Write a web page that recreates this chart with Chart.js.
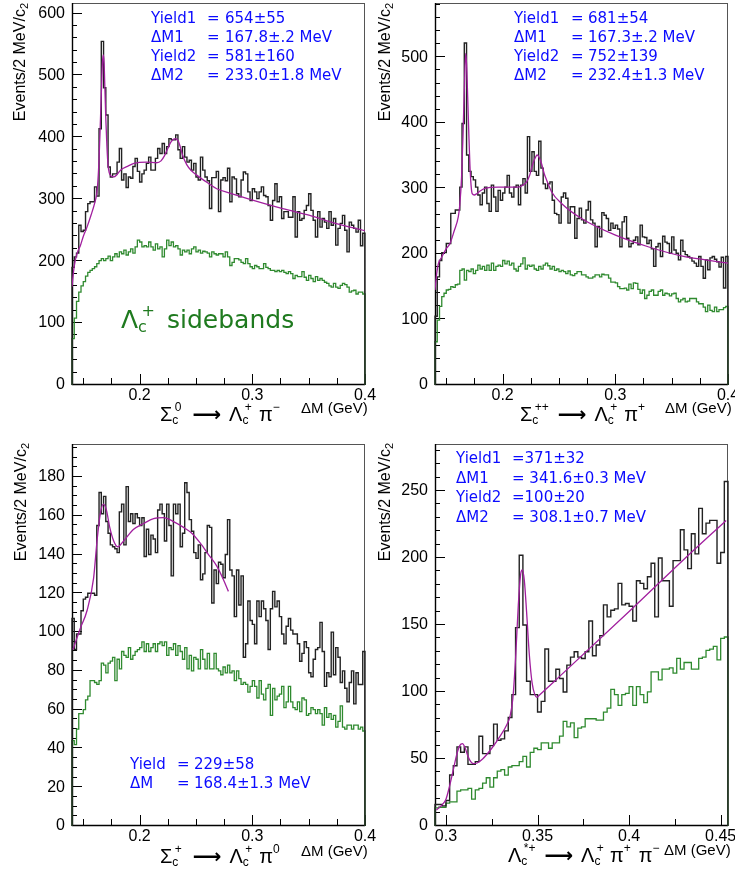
<!DOCTYPE html>
<html>
<head>
<meta charset="utf-8">
<script src="https://cdn.jsdelivr.net/npm/chart.js@4.4.1/dist/chart.umd.min.js"></script>
<style>
  html, body { margin: 0; padding: 0; background: #fff; }
  #page { position: relative; width: 735px; height: 871px; overflow: hidden; background: #fff; }
  #page canvas { position: absolute; }
</style>
</head>
<body>
<div id="page">
  <canvas id="c1" width="380" height="430" style="left:0px;top:0px"></canvas>
  <canvas id="c2" width="367" height="430" style="left:368px;top:0px"></canvas>
  <canvas id="c3" width="380" height="441" style="left:0px;top:430px"></canvas>
  <canvas id="c4" width="367" height="441" style="left:368px;top:430px"></canvas>
</div>
<script>
// binning (GeV)
const binWidth = 0.002;
const sigmaLo = 0.14, sigmaHi = 0.40;
const lambdaLo = 0.294, lambdaHi = 0.454;

// axis ticks
const sigmaXTicks = [0.2, 0.3, 0.4];
const lambdaXTicks = [0.3, 0.35, 0.4, 0.45];
const sigma0YTicks = [0, 100, 200, 300, 400, 500, 600];
const sigmaPPYTicks = [0, 100, 200, 300, 400, 500];
const sigmaPYTicks = [0, 20, 40, 60, 80, 100, 120, 140, 160, 180];
const lambdaStarYTicks = [0, 50, 100, 150, 200, 250];

// Sigma_c0 -> Lambda_c+ pi-
const sigma0Signal = [
  190, 207, 213, 258, 248, 250, 280, 293, 296, 296,
  320, 305, 414, 555, 480, 436, 352, 336, 341, 341,
  360, 382, 331, 341, 319, 336, 334, 353, 366, 345,
  328, 341, 347, 358, 368, 347, 347, 366, 382, 374,
  390, 374, 385, 398, 396, 396, 404, 380, 366, 385,
  368, 360, 363, 347, 358, 336, 331, 368, 347, 336,
  330, 285, 335, 335, 345, 280, 331, 335, 330, 350,
  296, 336, 333, 309, 304, 331, 344, 341, 312, 298,
  317, 312, 301, 312, 320, 306, 304, 290, 266, 298,
  325, 296, 304, 269, 280, 280, 271, 271, 304, 239,
  280, 266, 269, 282, 290, 309, 282, 266, 239, 280,
  255, 269, 263, 253, 280, 258, 269, 226, 253, 261,
  274, 250, 215, 263, 258, 253, 247, 266, 225, 245
];
const sigma0Side = [
  75, 108, 135, 150, 160, 167, 176, 182, 185, 188,
  191, 196, 201, 204, 201, 204, 208, 201, 207, 212,
  207, 215, 212, 218, 210, 215, 220, 213, 223, 234,
  231, 223, 225, 223, 231, 223, 218, 228, 220, 223,
  207, 220, 234, 225, 231, 223, 225, 220, 210, 218,
  215, 218, 212, 220, 223, 215, 218, 213, 216, 215,
  213, 207, 215, 212, 210, 212, 212, 207, 215, 207,
  193, 198, 204, 204, 202, 198, 196, 204, 196, 191,
  188, 193, 191, 188, 188, 196, 190, 188, 185, 185,
  183, 185, 183, 185, 182, 180, 183, 180, 172, 177,
  175, 175, 183, 174, 169, 177, 172, 167, 175, 169,
  172, 169, 166, 164, 160, 158, 164, 158, 156, 161,
  164, 162, 158, 150, 152, 153, 147, 150, 150, 147
];
const sigma0FitX = [0.140, 0.1415, 0.143, 0.145, 0.1474, 0.150, 0.1533, 0.157, 0.160, 0.162,
  0.163, 0.164, 0.165, 0.166, 0.167, 0.1678, 0.1685, 0.169, 0.170, 0.171,
  0.172, 0.173, 0.175, 0.177, 0.180, 0.183, 0.190, 0.195, 0.206, 0.215,
  0.219, 0.222, 0.225, 0.228, 0.2315, 0.234, 0.236, 0.238, 0.2418, 0.246,
  0.2507, 0.260, 0.2684, 0.280, 0.298, 0.327, 0.351, 0.372, 0.400];
const sigma0FitY = [159, 185, 202, 215, 225, 240, 255, 275, 293, 310,
  330, 365, 415, 470, 520, 533, 520, 490, 430, 385,
  355, 343, 337, 336, 340, 347, 354, 358, 360, 359,
  362, 370, 382, 393, 398, 395, 385, 372, 356, 346,
  339, 327, 317, 310, 300, 285, 274, 262, 249];

// Sigma_c++ -> Lambda_c+ pi+
const sigmaPPSignal = [
  105, 165, 190, 202, 202, 216, 216, 262, 262, 267,
  267, 302, 399, 522, 351, 326, 318, 313, 302, 290,
  275, 293, 302, 277, 265, 305, 287, 265, 297, 282,
  293, 302, 320, 293, 287, 302, 305, 275, 305, 315,
  293, 379, 326, 356, 326, 320, 372, 331, 307, 300,
  307, 310, 282, 262, 260, 247, 287, 293, 285, 247,
  272, 272, 224, 254, 270, 252, 247, 267, 280, 252,
  247, 211, 242, 226, 263, 259, 254, 236, 247, 239,
  244, 238, 211, 249, 257, 224, 211, 216, 221, 226,
  214, 244, 226, 225, 216, 221, 208, 181, 211, 216,
  196, 227, 218, 216, 201, 226, 206, 201, 191, 221,
  204, 199, 196, 194, 189, 186, 181, 196, 181, 163,
  191, 176, 194, 196, 192, 188, 180, 195, 148, 196
];
const sigmaPPSide = [
  66, 99, 120, 135, 140, 145, 146, 150, 149, 153,
  154, 175, 177, 160, 175, 173, 177, 170, 175, 183,
  177, 181, 175, 183, 175, 186, 175, 181, 183, 181,
  190, 185, 189, 183, 186, 177, 174, 181, 185, 194,
  177, 183, 181, 183, 177, 175, 181, 177, 183, 186,
  182, 177, 181, 175, 177, 173, 175, 173, 170, 174,
  168, 167, 170, 173, 173, 168, 168, 165, 163, 163,
  165, 168, 168, 165, 169, 168, 168, 163, 157, 157,
  156, 150, 147, 147, 148, 145, 154, 147, 156, 155,
  146, 140, 145, 132, 137, 143, 145, 137, 137, 143,
  145, 137, 140, 139, 136, 139, 140, 132, 127, 130,
  132, 127, 128, 132, 132, 132, 127, 124, 124, 119,
  112, 122, 114, 112, 119, 112, 115, 115, 118, 120
];
const sigmaPPFitX = [0.140, 0.1415, 0.143, 0.1459, 0.150, 0.1533, 0.157, 0.1607, 0.162, 0.1636,
  0.165, 0.166, 0.1672, 0.168, 0.169, 0.170, 0.171, 0.172, 0.173, 0.175,
  0.177, 0.180, 0.1843, 0.196, 0.214, 0.218, 0.2213, 0.224, 0.2257, 0.228,
  0.2307, 0.2325, 0.2345, 0.237, 0.239, 0.2434, 0.2523, 0.270, 0.2996, 0.3291,
  0.3586, 0.380, 0.400];
const sigmaPPFitY = [145, 170, 185, 195, 208, 216, 235, 257, 275, 318,
  390, 450, 506, 490, 440, 384, 335, 305, 292, 290,
  292, 296, 300, 302, 302, 305, 310, 320, 331, 343,
  351, 347, 338, 322, 313, 295, 277, 254, 229, 211,
  197, 191, 186];

// Sigma_c+ -> Lambda_c+ pi0
const sigmaPSignal = [
  107, 91, 99, 99, 111, 117, 118, 120, 120, 120,
  119, 155, 172, 161, 170, 157, 151, 145, 144, 143,
  141, 162, 166, 145, 175, 157, 161, 156, 161, 159,
  155, 159, 139, 153, 140, 150, 148, 141, 163, 166,
  161, 147, 166, 155, 129, 166, 161, 166, 144, 151,
  177, 172, 158, 152, 141, 138, 145, 127, 130, 141,
  155, 154, 115, 132, 125, 136, 135, 128, 140, 158,
  132, 129, 108, 132, 114, 129, 87, 94, 116, 106,
  104, 94, 116, 108, 116, 112, 106, 91, 112, 121,
  113, 116, 108, 99, 94, 103, 107, 101, 99, 99,
  94, 85, 89, 95, 92, 79, 77, 86, 91, 92,
  105, 90, 72, 79, 77, 100, 78, 92, 87, 74,
  80, 71, 64, 74, 80, 63, 79, 73, 73, 90
];
const sigmaPSide = [
  44, 42, 50, 58, 58, 60, 65, 67, 75, 75,
  74, 73, 75, 84, 83, 79, 84, 85, 87, 75,
  86, 81, 90, 88, 87, 92, 86, 88, 90, 91,
  92, 95, 90, 94, 90, 92, 94, 90, 94, 95,
  93, 95, 88, 92, 91, 94, 88, 93, 90, 86,
  92, 81, 88, 80, 87, 86, 81, 91, 86, 81,
  89, 81, 81, 89, 81, 80, 78, 82, 79, 83,
  79, 80, 75, 80, 76, 73, 74, 73, 69, 72,
  75, 72, 66, 75, 68, 65, 71, 73, 57, 71,
  65, 67, 68, 72, 61, 64, 72, 64, 61, 60,
  64, 59, 66, 65, 57, 58, 61, 60, 58, 60,
  58, 52, 61, 56, 58, 55, 57, 51, 54, 62,
  51, 50, 52, 52, 50, 52, 52, 50, 51, 49
];
const sigmaPFitX = [0.1409, 0.1474, 0.1533, 0.1592, 0.1622, 0.1651, 0.1678, 0.1705, 0.1735, 0.177,
  0.1805, 0.1858, 0.1947, 0.2035, 0.2124, 0.2212, 0.2301, 0.239, 0.2463, 0.2537,
  0.2611, 0.2685, 0.2744, 0.2788];
const sigmaPFitY = [91, 102, 111, 128, 147, 161, 166, 163, 154, 147,
  144, 147, 153, 156, 158.5, 159, 157, 154, 151, 146,
  140, 134, 127, 121];

// Lambda_c*+ -> Lambda_c+ pi+ pi-
const lambdaStarSignal = [
  16, 16, 15, 19, 38, 45, 59, 55, 59, 46,
  46, 48, 67, 54, 54, 60, 76, 64, 65, 71,
  81, 98, 148, 202, 150, 108, 98, 98, 85, 93,
  132, 108, 108, 117, 110, 100, 120, 126, 130, 126,
  125, 130, 153, 127, 135, 142, 165, 156, 161, 162,
  181, 165, 166, 164, 153, 183, 181, 177, 186, 196,
  156, 200, 183, 183, 164, 198, 198, 221, 206, 192,
  218, 203, 237, 218, 226, 228, 228, 196, 204, 257
];
const lambdaStarSide = [
  13.5, 14, 14, 17, 18, 18, 26, 27, 27, 28,
  20, 27, 28, 32, 36, 29, 36, 41, 42, 38,
  44, 45, 45, 48, 52, 44, 55, 58, 57, 62,
  62, 58, 62, 62, 67, 78, 74, 77, 66, 73,
  74, 80, 80, 80, 79, 79, 85, 88, 102, 98,
  90, 98, 99, 104, 90, 104, 98, 92, 100, 115,
  115, 109, 117, 117, 118, 114, 125, 117, 122, 122,
  117, 117, 125, 126, 131, 132, 134, 124, 140, 141
];
const lambdaStarFitX = [0.2948, 0.298, 0.300, 0.302, 0.304, 0.306, 0.3075, 0.309, 0.3105, 0.312,
  0.3135, 0.315, 0.317, 0.320, 0.325, 0.330, 0.333, 0.335, 0.3365, 0.338,
  0.3395, 0.3408, 0.3417, 0.3428, 0.344, 0.3455, 0.347, 0.3485, 0.3497, 0.3505,
  0.360, 0.400, 0.430, 0.453];
const lambdaStarFitY = [12, 16, 20, 30, 42, 54, 60, 61.5, 58, 52,
  48, 46.5, 47, 50, 58, 68, 75, 82, 95, 125,
  165, 188, 191, 183, 160, 128, 107, 98, 96, 97,
  109, 160, 199, 228];

// fit results
const sigma0Notes = [['Yield1', '654±55'], ['ΔM1', '167.8±.2 MeV'], ['Yield2', '581±160'], ['ΔM2', '233.0±1.8 MeV']];
const sigmaPPNotes = [['Yield1', '681±54'], ['ΔM1', '167.3±.2 MeV'], ['Yield2', '752±139'], ['ΔM2', '232.4±1.3 MeV']];
const sigmaPNotes = [['Yield', '229±58'], ['ΔM', '168.4±1.3 MeV']];
const lambdaStarNotes = [['Yield1', '=371±32'], ['ΔM1', '= 341.6±0.3 MeV'], ['Yield2', '=100±20'], ['ΔM2', '= 308.1±0.7 MeV']];

const SANS = '"Liberation Sans", Arial, sans-serif';
const DEJAVU = '"DejaVu Sans", sans-serif';
const FIT_COLOR = '#a11f9e';
const SIDE_COLOR = '#2f8a2f';
const NOTE_COLOR = '#0b0bff';
const ARROW = { t: '⟶', family: DEJAVU, weight: 'bold' };

const panelText = {
  c1: {
    ox: 0, oy: 0, yTitle: [25, 3], dm: [301, 413],
    xTitle: { x: 160, y: 421, parts: [{ t: 'Σ' }, { sub: 'c', sup: '0' }, { gap: 11 }, ARROW, { gap: 8 },
      { t: 'Λ' }, { sub: 'c', sup: '+' }, { gap: 7 }, { t: 'π' }, { sup: '−' }] },
    notes: { rows: sigma0Notes, labelX: 151, eqX: 207, valX: 225, y0: 22.7, dy: 19.1 },
    sideband: true
  },
  c2: {
    ox: 368, oy: 0, yTitle: [390, 3], dm: [665, 413],
    xTitle: { x: 520, y: 421, parts: [{ t: 'Σ' }, { sub: 'c', sup: '++' }, { gap: 9 }, ARROW, { gap: 8 },
      { t: 'Λ' }, { sub: 'c', sup: '+' }, { gap: 7 }, { t: 'π' }, { sup: '+' }] },
    notes: { rows: sigmaPPNotes, labelX: 514, eqX: 571, valX: 588, y0: 22.7, dy: 19.1 }
  },
  c3: {
    ox: 0, oy: 430, yTitle: [26, 443], dm: [301, 856],
    xTitle: { x: 160, y: 863, parts: [{ t: 'Σ' }, { sub: 'c', sup: '+' }, { gap: 11 }, ARROW, { gap: 8 },
      { t: 'Λ' }, { sub: 'c', sup: '+' }, { gap: 7 }, { t: 'π' }, { sup: '0' }] },
    notes: { rows: sigmaPNotes, labelX: 130, eqX: 177, valX: 194, y0: 769.3, dy: 19 }
  },
  c4: {
    ox: 368, oy: 430, yTitle: [390, 443], dm: [664, 855],
    xTitle: { x: 508, y: 862, parts: [{ t: 'Λ' }, { sub: 'c', sup: '*+' }, { gap: 9 }, ARROW, { gap: 8 },
      { t: 'Λ' }, { sub: 'c', sup: '+' }, { gap: 6 }, { t: 'π' }, { sup: '+' }, { gap: 8 }, { t: 'π' }, { sup: '−' }] },
    notes: { rows: lambdaStarNotes, labelX: 456, eqX: null, valX: 512, y0: 463.3, dy: 19.4 }
  }
};

function histPoints(lo, counts) {
  const hi = lo + counts.length * binWidth;
  const pts = [{ x: lo, y: 0 }];
  counts.forEach((c, i) => pts.push({ x: lo + i * binWidth, y: c }));
  pts.push({ x: hi, y: counts[counts.length - 1] });
  pts.push({ x: hi, y: 0 });
  return pts;
}

function curvePoints(xs, ys) {
  return xs.map((x, i) => ({ x: x, y: ys[i] }));
}

// text with ROOT-like sub/superscripts
function drawParts(ctx, x, y, parts, size, family) {
  const small = Math.round(size * 0.62);
  for (const p of parts) {
    if (p.gap) { x += p.gap; continue; }
    if (p.t) {
      ctx.font = (p.weight ? p.weight + ' ' : '') + size + 'px ' + (p.family || family);
      ctx.fillText(p.t, x, y);
      x += ctx.measureText(p.t).width;
      continue;
    }
    ctx.font = small + 'px ' + family;
    let w = 0;
    if (p.sub) {
      ctx.fillText(p.sub, x, y + size * 0.15);
      w = ctx.measureText(p.sub).width;
    }
    if (p.sup) {
      const sx = x + w * 0.4;
      ctx.fillText(p.sup, sx, y - size * 0.5);
      w = Math.max(w, w * 0.4 + ctx.measureText(p.sup).width);
    }
    x += w;
  }
}

const rootFrame = {
  id: 'rootFrame',
  beforeDatasetsDraw(chart, args, o) {
    const { ctx, chartArea: a } = chart;
    const xs = chart.scales.x, ys = chart.scales.y;
    ctx.save();
    ctx.strokeStyle = '#555';
    ctx.lineWidth = 1;
    ctx.strokeRect(a.left + 0.5, a.top + 0.5, a.right - a.left - 1, a.bottom - a.top - 1);
    ctx.strokeStyle = '#000';
    ctx.lineWidth = 1.4;
    ctx.beginPath();
    ctx.moveTo(a.left + 0.5, a.top);
    ctx.lineTo(a.left + 0.5, a.bottom - 0.5);
    ctx.lineTo(a.right, a.bottom - 0.5);
    ctx.stroke();
    // tick marks point into the frame
    ctx.lineWidth = 1;
    ctx.beginPath();
    for (let k = 0; k * o.yMinor <= ys.max + 1e-9; k++) {
      const v = k * o.yMinor;
      const major = Math.abs(v / o.yMajor - Math.round(v / o.yMajor)) < 1e-6;
      const py = Math.round(ys.getPixelForValue(v)) - 0.5;
      ctx.moveTo(a.left, py);
      ctx.lineTo(a.left + (major ? 10 : 5), py);
    }
    const k0 = Math.ceil(xs.min / o.xMinor - 1e-6);
    for (let k = k0; k * o.xMinor <= xs.max + 1e-9; k++) {
      const v = k * o.xMinor;
      const major = Math.abs(v / o.xMajor - Math.round(v / o.xMajor)) < 1e-6;
      const px = Math.round(xs.getPixelForValue(v)) + 0.5;
      ctx.moveTo(px, a.bottom);
      ctx.lineTo(px, a.bottom - (major ? 11 : 7));
    }
    ctx.stroke();
    ctx.restore();
  },
  afterDraw(chart) {
    const t = panelText[chart.canvas.id];
    const ctx = chart.ctx;
    ctx.save();
    ctx.translate(-t.ox, -t.oy);
    ctx.textBaseline = 'alphabetic';
    ctx.textAlign = 'left';

    // y axis title, ending at the top of the frame
    ctx.save();
    ctx.translate(t.yTitle[0], t.yTitle[1]);
    ctx.rotate(-Math.PI / 2);
    ctx.fillStyle = '#000';
    ctx.font = '11px ' + SANS;
    const w2 = ctx.measureText('2').width;
    ctx.fillText('2', -w2, 3);
    ctx.font = '16px ' + SANS;
    ctx.textAlign = 'right';
    ctx.fillText('Events/2 MeV/c', -w2, 0);
    ctx.restore();

    // x axis titles
    ctx.fillStyle = '#000';
    drawParts(ctx, t.xTitle.x, t.xTitle.y, t.xTitle.parts, 20, SANS);
    ctx.font = '15px ' + SANS;
    ctx.fillText('ΔM (GeV)', t.dm[0], t.dm[1]);

    // fit results
    const n = t.notes;
    ctx.fillStyle = NOTE_COLOR;
    ctx.font = '15px ' + DEJAVU;
    n.rows.forEach((r, i) => {
      const y = n.y0 + i * n.dy;
      ctx.fillText(r[0], n.labelX, y);
      if (n.eqX !== null) {
        ctx.fillText('=', n.eqX, y);
      }
      ctx.fillText(r[1], n.valX, y);
    });

    if (t.sideband) {
      ctx.fillStyle = '#1f7a1f';
      drawParts(ctx, 121, 328, [{ t: 'Λ' }, { sub: 'c', sup: '+' }, { gap: 12 }, { t: 'sidebands' }], 25, DEJAVU);
    }
    ctx.restore();
  }
};

function makePanel(id, cfg) {
  new Chart(document.getElementById(id), {
    type: 'line',
    data: {
      datasets: [
        { data: curvePoints(cfg.fitX, cfg.fitY), borderColor: FIT_COLOR, borderWidth: 1.3,
          pointRadius: 0, cubicInterpolationMode: 'monotone', fill: false },
        { data: histPoints(cfg.lo, cfg.signal), stepped: true, borderColor: '#222', borderWidth: 1.4,
          pointRadius: 0, fill: false, clip: 3 },
        { data: histPoints(cfg.lo, cfg.side), stepped: true, borderColor: SIDE_COLOR, borderWidth: 1.3,
          pointRadius: 0, fill: false, clip: 3 }
      ]
    },
    options: {
      responsive: false,
      animation: false,
      devicePixelRatio: 1,
      events: [],
      layout: { padding: { left: 0, top: cfg.padTop, right: cfg.padRight, bottom: 0 } },
      plugins: {
        legend: { display: false },
        tooltip: { enabled: false },
        rootFrame: { yMinor: cfg.yMinor, yMajor: cfg.yMajor, xMinor: 0.025, xMajor: cfg.xMajor }
      },
      scales: {
        x: {
          type: 'linear', min: cfg.lo, max: cfg.hi,
          grid: { display: false, drawTicks: false },
          border: { display: false },
          afterBuildTicks: s => { s.ticks = cfg.xTicks.map(v => ({ value: v })); },
          afterFit: s => { s.height = 45; s.paddingLeft = 0; s.paddingRight = 0; },
          ticks: { autoSkip: false, maxRotation: 0, padding: 1, color: '#000',
            font: { family: SANS, size: 16 }, callback: v => String(v) }
        },
        y: {
          type: 'linear', min: 0, max: cfg.yMax,
          grid: { display: false, drawTicks: false },
          border: { display: false },
          afterBuildTicks: s => { s.ticks = cfg.yTicks.map(v => ({ value: v })); },
          afterFit: s => { s.width = cfg.axisW; s.paddingTop = 0; s.paddingBottom = 0; },
          ticks: { autoSkip: false, padding: 7, color: '#000',
            font: { family: SANS, size: 16 }, callback: v => String(v) }
        }
      }
    },
    plugins: [rootFrame]
  });
}

makePanel('c1', { lo: sigmaLo, hi: sigmaHi, yMax: 617, signal: sigma0Signal, side: sigma0Side,
  fitX: sigma0FitX, fitY: sigma0FitY, xTicks: sigmaXTicks, yTicks: sigma0YTicks,
  yMinor: 20, yMajor: 100, xMajor: 0.1, axisW: 72, padTop: 3, padRight: 15 });
makePanel('c2', { lo: sigmaLo, hi: sigmaHi, yMax: 583, signal: sigmaPPSignal, side: sigmaPPSide,
  fitX: sigmaPPFitX, fitY: sigmaPPFitY, xTicks: sigmaXTicks, yTicks: sigmaPPYTicks,
  yMinor: 20, yMajor: 100, xMajor: 0.1, axisW: 67, padTop: 3, padRight: 7 });
makePanel('c3', { lo: sigmaLo, hi: sigmaHi, yMax: 197, signal: sigmaPSignal, side: sigmaPSide,
  fitX: sigmaPFitX, fitY: sigmaPFitY, xTicks: sigmaXTicks, yTicks: sigmaPYTicks,
  yMinor: 5, yMajor: 20, xMajor: 0.1, axisW: 72, padTop: 14, padRight: 15 });
makePanel('c4', { lo: lambdaLo, hi: lambdaHi, yMax: 285, signal: lambdaStarSignal, side: lambdaStarSide,
  fitX: lambdaStarFitX, fitY: lambdaStarFitY, xTicks: lambdaXTicks, yTicks: lambdaStarYTicks,
  yMinor: 10, yMajor: 50, xMajor: 0.05, axisW: 67, padTop: 14, padRight: 7 });
</script>
</body>
</html>
